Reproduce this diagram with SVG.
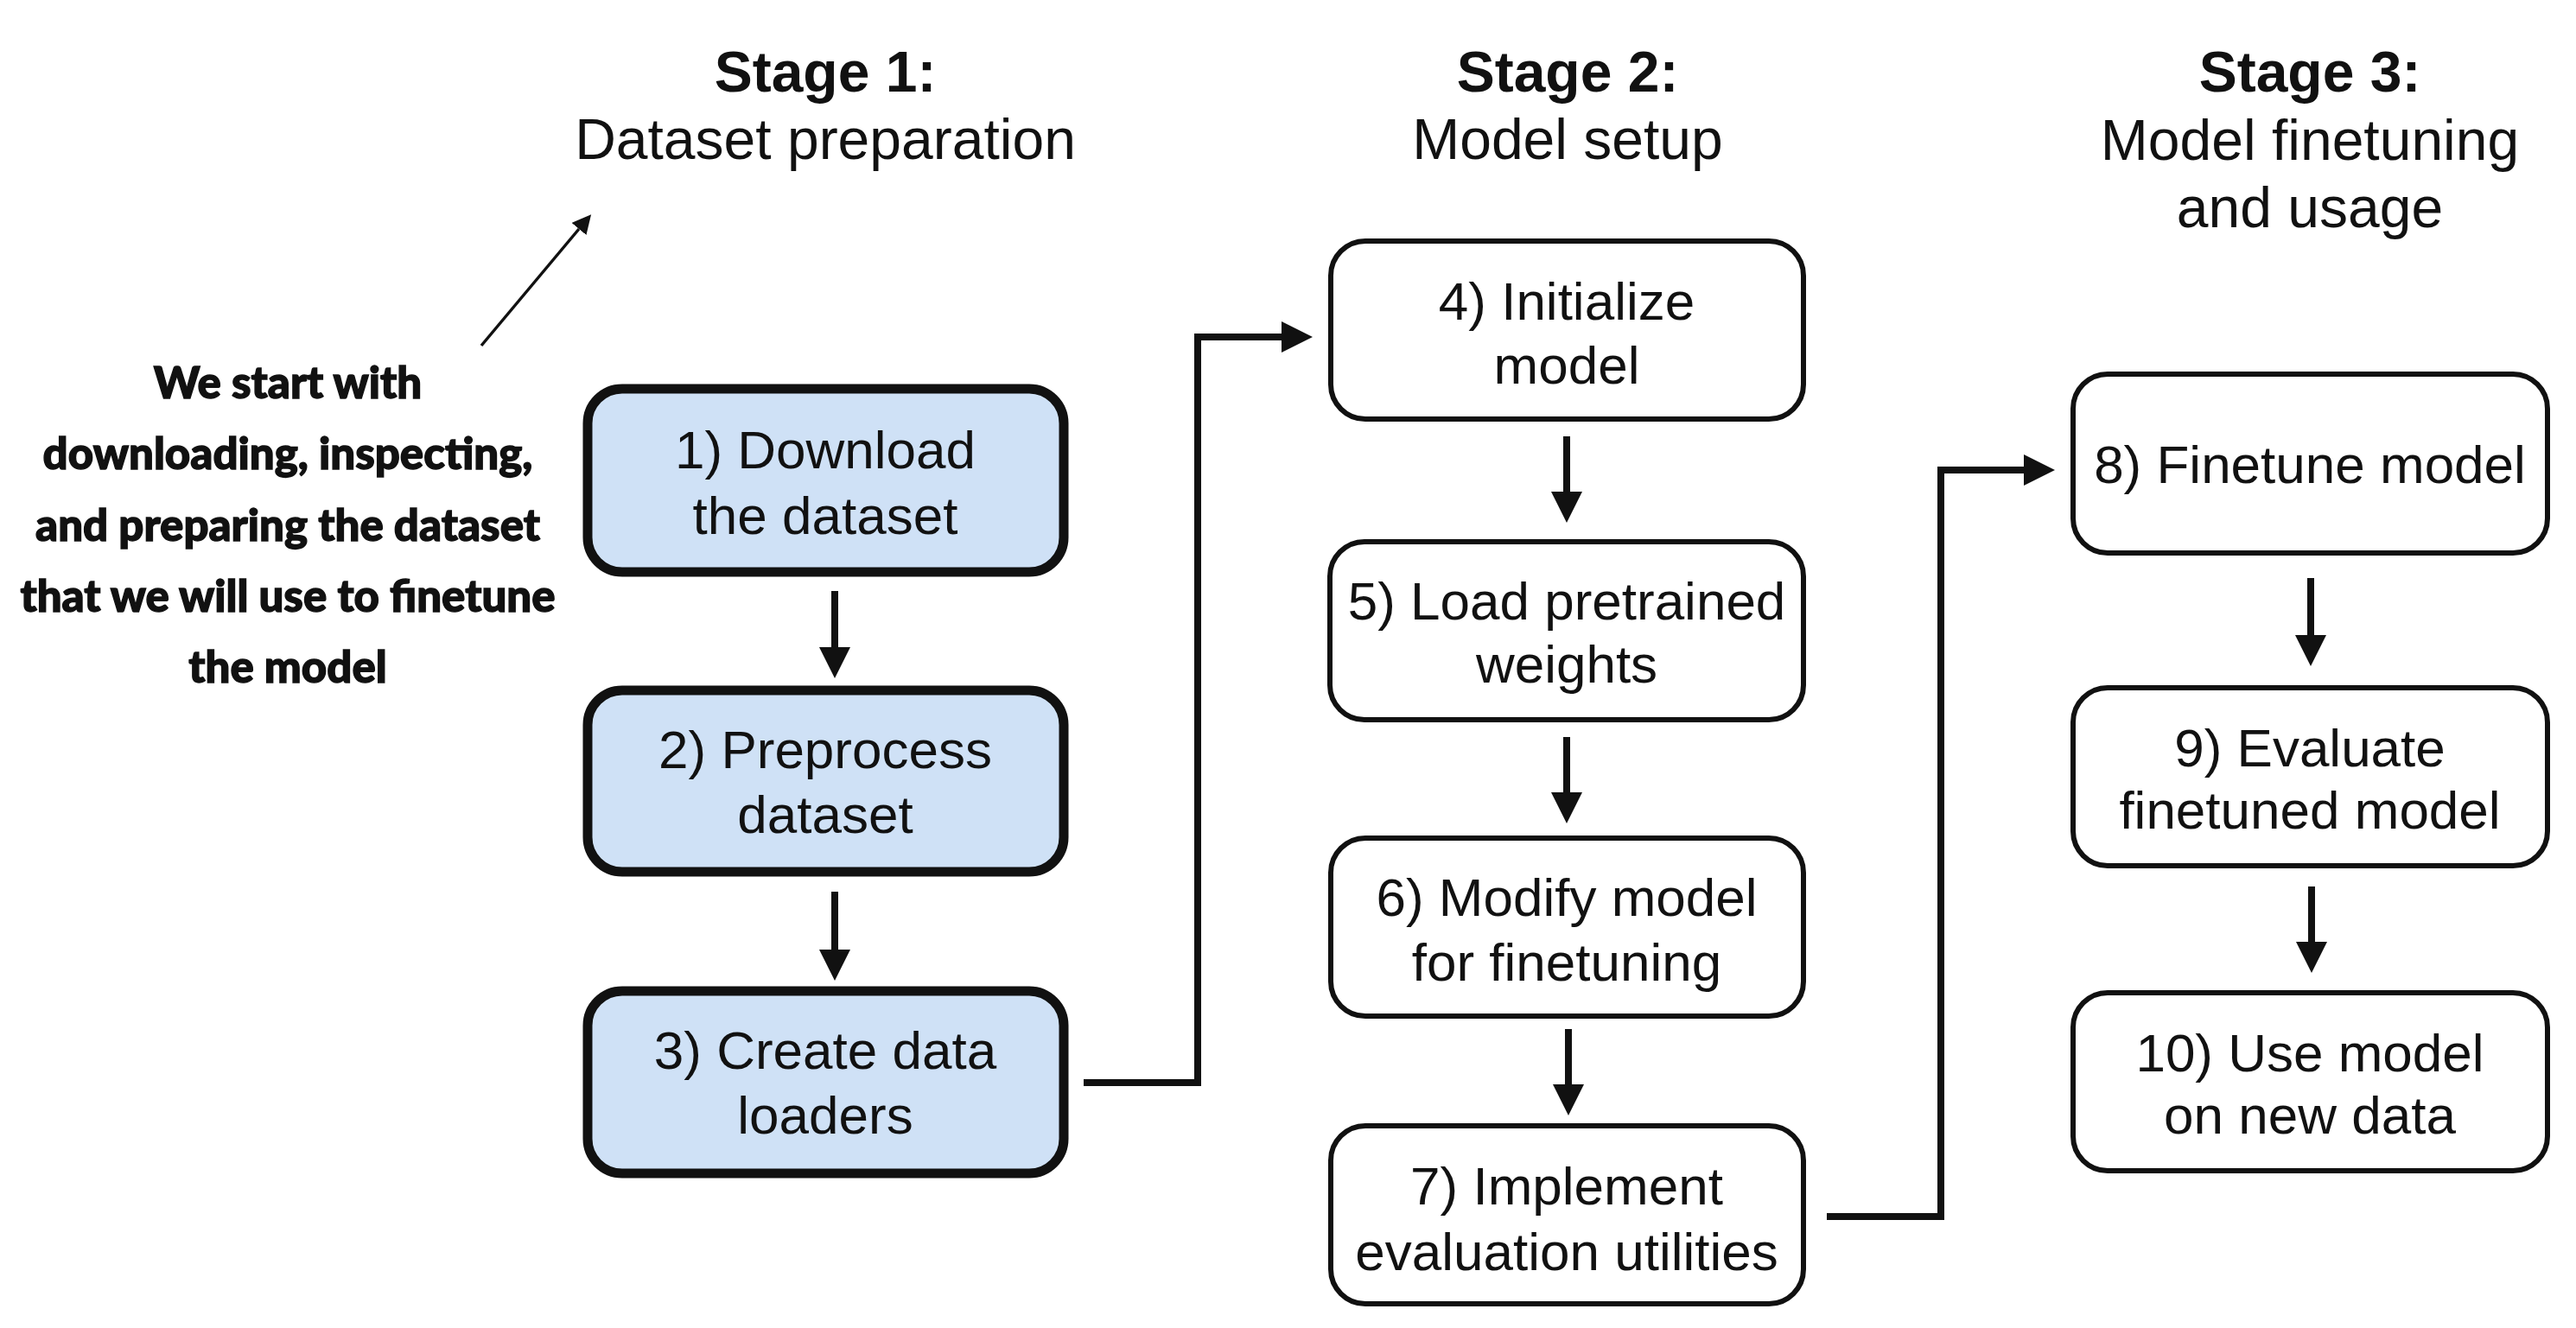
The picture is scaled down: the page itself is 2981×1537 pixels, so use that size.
<svg xmlns="http://www.w3.org/2000/svg" width="2981" height="1537" viewBox="0 0 2981 1537">
  <style>
    .title { font-family: "Liberation Sans", Arial, sans-serif; font-size: 66px; fill: #111; text-anchor: middle; }
    .bold { font-weight: bold; }
    .lbl { font-family: "Liberation Sans", Arial, sans-serif; font-size: 62px; fill: #111; text-anchor: middle; }
    .note { font-family: Lato, "Open Sans", sans-serif; font-weight: 900; font-size: 51px; fill: #111; stroke: #111; stroke-width: 1.4; text-anchor: middle; }
    .blue { fill: #cfe1f6; stroke: #111; stroke-width: 11; }
    .white { fill: #ffffff; stroke: #111; stroke-width: 6; }
    .conn { fill: none; stroke: #111; stroke-width: 8; stroke-linecap: butt; stroke-linejoin: miter; marker-end: url(#head); }
    .thin { fill: none; stroke: #111; stroke-width: 3.5; marker-end: url(#small); }
  </style>
  <defs>
    <marker id="head" markerUnits="userSpaceOnUse" markerWidth="36" markerHeight="36" viewBox="0 0 34 34" refX="0" refY="17" orient="auto">
      <path d="M0,0 L34,17 L0,34 z" fill="#111"/>
    </marker>
    <marker id="small" markerUnits="userSpaceOnUse" markerWidth="22" markerHeight="22" viewBox="0 0 20 20" refX="0" refY="10" orient="auto">
      <path d="M0,0 L20,10 L0,20 z" fill="#111"/>
    </marker>
  </defs>
  <rect width="2981" height="1537" fill="#ffffff"/>

  <g id="stage1-title">
    <text class="title bold" x="955" y="106">Stage 1:</text>
    <text class="title" x="955" y="184">Dataset preparation</text>
  </g>
  <g id="stage2-title">
    <text class="title bold" x="1814" y="106">Stage 2:</text>
    <text class="title" x="1814" y="184">Model setup</text>
  </g>
  <g id="stage3-title">
    <text class="title bold" x="2673" y="106">Stage 3:</text>
    <text class="title" x="2673" y="185">Model finetuning</text>
    <text class="title" x="2673" y="263">and usage</text>
  </g>

  <g id="note">
    <text class="note" x="333" y="461">We start with</text>
    <text class="note" x="333" y="543">downloading, inspecting,</text>
    <text class="note" x="333" y="626">and preparing the dataset</text>
    <text class="note" x="333" y="708">that we will use to finetune</text>
    <text class="note" x="333" y="790">the model</text>
  </g>

  <g id="n1">
    <rect class="blue" x="680" y="450" width="551" height="212" rx="40"/>
    <text class="lbl" x="955" y="542">1) Download</text>
    <text class="lbl" x="955" y="618">the dataset</text>
  </g>
  <g id="n2">
    <rect class="blue" x="680" y="799" width="551" height="210" rx="40"/>
    <text class="lbl" x="955" y="889">2) Preprocess</text>
    <text class="lbl" x="955" y="964">dataset</text>
  </g>
  <g id="n3">
    <rect class="blue" x="680" y="1147" width="551" height="211" rx="40"/>
    <text class="lbl" x="955" y="1237">3) Create data</text>
    <text class="lbl" x="955" y="1312">loaders</text>
  </g>
  <g id="n4">
    <rect class="white" x="1540" y="279" width="547" height="206" rx="40"/>
    <text class="lbl" x="1813" y="370">4) Initialize</text>
    <text class="lbl" x="1813" y="444">model</text>
  </g>
  <g id="n5">
    <rect class="white" x="1539" y="627" width="548" height="206" rx="40"/>
    <text class="lbl" x="1813" y="717">5) Load pretrained</text>
    <text class="lbl" x="1813" y="790">weights</text>
  </g>
  <g id="n6">
    <rect class="white" x="1540" y="970" width="547" height="206" rx="40"/>
    <text class="lbl" x="1813" y="1060">6) Modify model</text>
    <text class="lbl" x="1813" y="1135">for finetuning</text>
  </g>
  <g id="n7">
    <rect class="white" x="1540" y="1303" width="547" height="206" rx="40"/>
    <text class="lbl" x="1813" y="1394">7) Implement</text>
    <text class="lbl" x="1813" y="1470">evaluation utilities</text>
  </g>
  <g id="n8">
    <rect class="white" x="2399" y="433" width="549" height="207" rx="40"/>
    <text class="lbl" x="2673" y="559">8) Finetune model</text>
  </g>
  <g id="n9">
    <rect class="white" x="2399" y="796" width="549" height="206" rx="40"/>
    <text class="lbl" x="2673" y="887">9) Evaluate</text>
    <text class="lbl" x="2673" y="959">finetuned model</text>
  </g>
  <g id="n10">
    <rect class="white" x="2399" y="1149" width="549" height="206" rx="40"/>
    <text class="lbl" x="2673" y="1240">10) Use model</text>
    <text class="lbl" x="2673" y="1312">on new data</text>
  </g>

  <g id="connectors">
    <path class="thin" d="M557,400 L670,265"/>
    <path class="conn" d="M966,684 L966,749"/>
    <path class="conn" d="M966,1032 L966,1099"/>
    <path class="conn" d="M1254,1253 L1386,1253 L1386,390 L1483,390"/>
    <path class="conn" d="M1813,505 L1813,569"/>
    <path class="conn" d="M1813,853 L1813,917"/>
    <path class="conn" d="M1815,1191 L1815,1255"/>
    <path class="conn" d="M2114,1408 L2246,1408 L2246,544 L2342,544"/>
    <path class="conn" d="M2674,669 L2674,735"/>
    <path class="conn" d="M2675,1026 L2675,1090"/>
  </g>
</svg>
